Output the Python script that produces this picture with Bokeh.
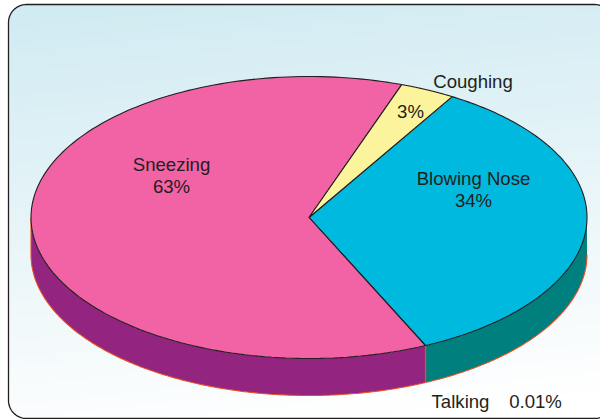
import numpy as np
from bokeh.plotting import figure
from bokeh.models import Range1d
from bokeh.core.properties import value
from bokeh.embed import file_html
from bokeh.resources import INLINE

categories = ["Blowing Nose", "Talking", "Sneezing", "Coughing"]
shares = [34.5, 0.01, 62.29, 3.2]           # slice shares as measured on the picture
percent_labels = ["34%", "0.01%", "63%", "3%"]
top_colors = ["#00b9de", "#f47b20", "#f263a6", "#fbf49c"]
side_colors = ["#007f7f", "#e8501e", "#93247f", "#fbf49c"]

W, H = 600, 419
CX, CY, RX, RY, DEPTH = 308.5, 217, 278, 141, 37
START = 59.0
FONT = "Liberation Sans"
INK = "#231f20"
EDGE = "#e8501e"

p = figure(width=W, height=H, output_backend="svg", toolbar_location=None,
           x_range=Range1d(0, W), y_range=Range1d(H, 0), min_border=0,
           x_axis_type=None, y_axis_type=None, outline_line_color=None,
           background_fill_color="white", border_fill_color="white")
p.grid.visible = False
p.styles = {"position": "absolute", "left": "0px", "top": "0px"}

# background gradient
gw, gh = 150, 105
xx, yy = np.meshgrid(np.linspace(0, 1, gw), np.linspace(0, 1, gh))
t = np.clip(0.92 * yy + 0.14 * xx, 0, 1)
c0 = np.array([208, 235, 242]); c1 = np.array([255, 255, 255])
img = np.zeros((gh, gw), dtype=np.uint32)
view = img.view(dtype=np.uint8).reshape((gh, gw, 4))
for i in range(3):
    view[:, :, i] = (c0[i] + (c1[i] - c0[i]) * t[::-1, :]).astype(np.uint8)
view[:, :, 3] = 255
p.image_rgba(image=[img], x=8, y=4, dw=W + 4 - 8, dh=418 - 4 + 0, origin="top_left")

# rounded frame
L, T, R, B, r = 8, 4, 612, 418, 18
def arc(cx, cy, a0, a1):
    a = np.radians(np.linspace(a0, a1, 16))
    return cx + r * np.cos(a), cy + r * np.sin(a)
corners = [arc(L + r, T + r, 180, 270), arc(R - r, T + r, 270, 360),
           arc(R - r, B - r, 0, 90), arc(L + r, B - r, 90, 180)]
fx = np.concatenate([c[0] for c in corners] + [[L + 0.0]])
fy = np.concatenate([c[1] for c in corners] + [[T + r]])
# white masks for outer corners
for (c, ox, oy) in zip(corners, [L - 1, R + 1, R + 1, L - 1], [T - 1, T - 1, B + 3, B + 3]):
    if ox > W:
        continue
    p.patch(list(c[0]) + [ox], list(c[1]) + [oy], fill_color="white", line_color=None)
p.patch([0, W, W, 0], [B + 0.5, B + 0.5, H, H], fill_color="white", line_color=None)
p.line(fx, fy, line_color=INK, line_width=1.3)

def rim(a0, a1, dy=0.0):
    a = np.radians(np.linspace(a0, a1, 160))
    return CX + RX * np.cos(a), CY - RY * np.sin(a) + dy

angle = START
bounds = []
for s in shares:
    bounds.append((angle, angle - s * 3.6))
    angle -= s * 3.6

# side walls: only the part of the rim facing the viewer (angles -180..0)
edges = []
for (a0, a1), col in zip(bounds, side_colors):
    for shift in (0, -360):
        lo, hi = max(a1 + shift, -180), min(a0 + shift, 0)
        if hi <= lo:
            continue
        x1, y1 = rim(hi, lo)
        x2, y2 = rim(lo, hi, DEPTH)
        p.patch(np.r_[x1, x2], np.r_[y1, y2], fill_color=col, line_color=None)
        edges.append((x2, y2))
        edges.append(([x2[0], x1[-1]], [y2[0], y1[-1]]))
for ex, ey in edges:
    p.line(ex, ey, line_color=EDGE, line_width=1.1)

# top slices
for (a0, a1), col in zip(bounds, top_colors):
    x, y = rim(a0, a1)
    p.patch(np.r_[CX, x], np.r_[CY, y], fill_color=col, line_color=INK, line_width=1.1)

# labels
lx = [473, 171, 410, 472.5, 460, 535]
ly = [189, 175, 111, 81, 401, 401]
txt = [categories[0] + "\n" + percent_labels[0], categories[2] + "\n" + percent_labels[2],
       percent_labels[3], categories[3], categories[1], percent_labels[1]]
p.text(x=lx, y=ly, text=txt, text_font=value(FONT), text_font_size=value("18.6px"),
       text_color=INK, text_align="center", text_baseline="middle", text_line_height=1.07)

open("out.html", "w").write(file_html(p, INLINE))
